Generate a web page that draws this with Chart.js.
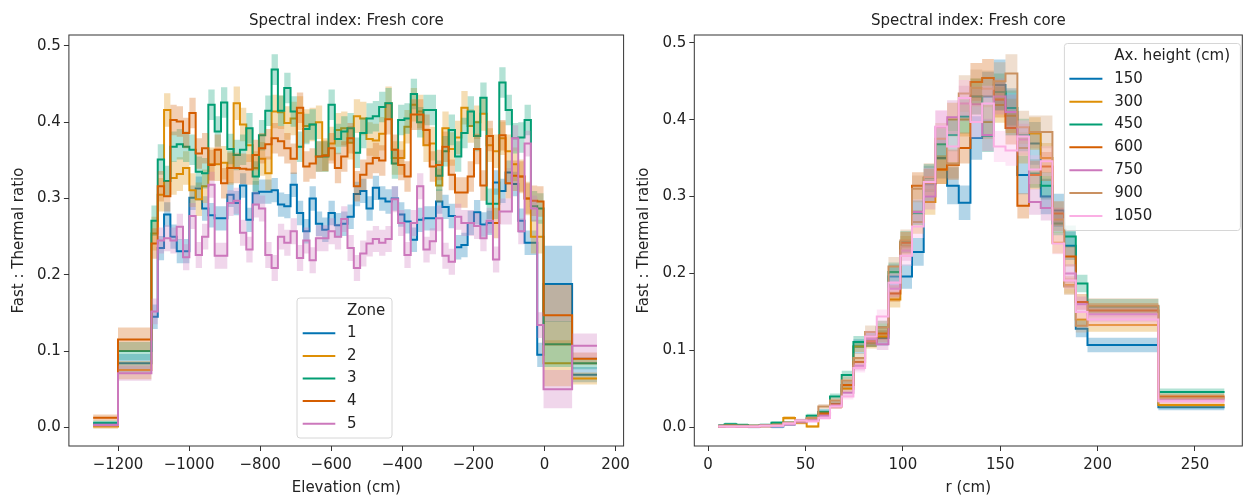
<!DOCTYPE html>
<html><head><meta charset="utf-8">
<script src="https://cdn.jsdelivr.net/npm/chart.js@4.4.0/dist/chart.umd.min.js"></script>
<style>
html,body{margin:0;padding:0;background:#fff;}
#wrap{position:relative;width:1249px;height:498px;overflow:hidden;background:#fff;}
canvas{position:absolute;top:0;}
#c1{z-index:1;}
#c2{z-index:2;}
</style></head><body>
<div id="wrap">
<canvas id="c1" width="660" height="498" style="left:0"></canvas>
<canvas id="c2" width="624" height="498" style="left:625px"></canvas>
</div>
<script>
// ---------------- DATA: left panel (Elevation) ----------------
const elevEdges = [-1270, -1200,
 -1106, -1088.2, -1070.4, -1052.6, -1034.8, -1017, -999.2, -981.4, -963.6, -945.8,
 -928, -910.2, -892.4, -874.6, -856.8, -839, -821.2, -803.4, -785.6, -767.8,
 -750, -732.2, -714.4, -696.6, -678.8, -661, -643.2, -625.4, -607.6, -589.8,
 -572, -554.2, -536.4, -518.6, -500.8, -483, -465.2, -447.4, -429.6, -411.8,
 -394, -376.2, -358.4, -340.6, -322.8, -305, -287.2, -269.4, -251.6, -233.8,
 -216, -198.2, -180.4, -162.6, -144.8, -127, -109.2, -91.4, -73.6, -55.8,
 -38, -20.2, -2.4, 78, 148];
const zoneLabels = ['1', '2', '3', '4', '5'];
const zone1 = [0.004, 0.084,
 0.145, 0.235, 0.279, 0.250, 0.231, 0.231, 0.301, 0.313, 0.287, 0.278,
 0.274, 0.274, 0.305, 0.294, 0.317, 0.272, 0.307, 0.309, 0.309, 0.311,
 0.292, 0.290, 0.318, 0.281, 0.257, 0.300, 0.267, 0.259, 0.281, 0.265,
 0.267, 0.276, 0.306, 0.310, 0.287, 0.314, 0.300, 0.296, 0.300, 0.279,
 0.270, 0.246, 0.272, 0.274, 0.274, 0.296, 0.289, 0.277, 0.236, 0.239,
 0.268, 0.282, 0.266, 0.268, 0.321, 0.310, 0.334, 0.319, 0.271, 0.242,
 0.242, 0.095, 0.188, 0.069];
const zone2 = [0.001, 0.075,
 0.254, 0.305, 0.416, 0.327, 0.332, 0.340, 0.311, 0.299, 0.316, 0.345,
 0.345, 0.347, 0.340, 0.425, 0.397, 0.370, 0.340, 0.352, 0.333, 0.414,
 0.413, 0.399, 0.405, 0.412, 0.395, 0.397, 0.400, 0.357, 0.372, 0.390,
 0.392, 0.373, 0.408, 0.405, 0.378, 0.376, 0.385, 0.425, 0.353, 0.353,
 0.394, 0.423, 0.414, 0.370, 0.372, 0.317, 0.392, 0.365, 0.380, 0.419,
 0.395, 0.400, 0.411, 0.370, 0.362, 0.379, 0.362, 0.345, 0.329, 0.300,
 0.250, 0.250, 0.084, 0.064];
const zone3 = [0.006, 0.100,
 0.271, 0.351, 0.323, 0.368, 0.371, 0.368, 0.364, 0.335, 0.333, 0.423,
 0.388, 0.426, 0.365, 0.357, 0.364, 0.392, 0.329, 0.383, 0.415, 0.469,
 0.415, 0.445, 0.414, 0.368, 0.391, 0.397, 0.355, 0.355, 0.423, 0.378,
 0.388, 0.392, 0.360, 0.386, 0.405, 0.408, 0.420, 0.425, 0.346, 0.403,
 0.405, 0.437, 0.400, 0.416, 0.416, 0.330, 0.362, 0.390, 0.355, 0.386,
 0.414, 0.382, 0.432, 0.293, 0.293, 0.452, 0.416, 0.379, 0.380, 0.403,
 0.290, 0.287, 0.109, 0.084];
const zone4 = [0.0127, 0.115,
 0.241, 0.316, 0.303, 0.403, 0.401, 0.386, 0.412, 0.359, 0.366, 0.344,
 0.364, 0.320, 0.340, 0.340, 0.339, 0.338, 0.357, 0.366, 0.371, 0.379,
 0.375, 0.366, 0.352, 0.419, 0.342, 0.346, 0.355, 0.356, 0.366, 0.340,
 0.355, 0.379, 0.316, 0.331, 0.346, 0.353, 0.350, 0.404, 0.364, 0.344,
 0.329, 0.410, 0.410, 0.390, 0.342, 0.344, 0.368, 0.331, 0.308, 0.308,
 0.329, 0.365, 0.317, 0.382, 0.268, 0.383, 0.320, 0.330, 0.329, 0.300,
 0.297, 0.296, 0.147, 0.090];
const zone5 = [0.003, 0.071,
 0.152, 0.245, 0.248, 0.245, 0.263, 0.223, 0.277, 0.226, 0.250, 0.318,
 0.225, 0.225, 0.294, 0.297, 0.255, 0.233, 0.292, 0.287, 0.226, 0.209,
 0.250, 0.242, 0.257, 0.222, 0.245, 0.219, 0.248, 0.248, 0.257, 0.250,
 0.273, 0.235, 0.209, 0.228, 0.241, 0.247, 0.242, 0.247, 0.299, 0.268,
 0.226, 0.268, 0.316, 0.233, 0.244, 0.274, 0.225, 0.217, 0.276, 0.268,
 0.268, 0.264, 0.248, 0.271, 0.220, 0.283, 0.283, 0.379, 0.257, 0.372,
 0.287, 0.134, 0.050, 0.107];
// uncertainty (half-width) of fine bins, and of the 4 coarse bins [first, second, second-last, last]
const zoneSigma = [0.016, 0.022, 0.020, 0.020, 0.017];
const zoneCoarseSigma = [
 [0.003, 0.012, 0.050, 0.010],
 [0.003, 0.012, 0.030, 0.008],
 [0.003, 0.012, 0.030, 0.008],
 [0.004, 0.016, 0.040, 0.008],
 [0.003, 0.010, 0.025, 0.016]];
const elevTicks = [-1200, -1000, -800, -600, -400, -200, 0, 200];

// ---------------- DATA: right panel (radius) ----------------
const rEdges = [5.2, 8.5, 14.5, 20.5, 26.5, 32.5, 38.6, 44.6, 50.6, 56.6, 62.6,
 68.6, 74.6, 80.6, 86.6, 92.6, 98.7, 104.7, 110.7, 116.7, 122.7,
 128.7, 134.7, 140.7, 146.7, 152.7, 158.8, 164.8, 170.8, 176.8, 182.8,
 188.8, 194.8, 231.2, 265.2];
const heightLabels = ['150', '300', '450', '600', '750', '900', '1050'];
const h150 = [0.002, 0.003, 0.002, 0.001, 0.002, 0.001, 0.004, 0.008, 0.010, 0.020, 0.030, 0.055,
 0.105, 0.115, 0.116, 0.196, 0.196, 0.228, 0.316, 0.350, 0.314, 0.292, 0.376, 0.430,
 0.445, 0.410, 0.328, 0.369, 0.300, 0.282, 0.236, 0.128, 0.107, 0.026];
const h300 = [0.001, 0.002, 0.002, 0.001, 0.002, 0.003, 0.012, 0.006, 0.001, 0.016, 0.027, 0.050,
 0.105, 0.110, 0.118, 0.166, 0.235, 0.267, 0.293, 0.335, 0.400, 0.400, 0.430, 0.397,
 0.419, 0.405, 0.363, 0.382, 0.350, 0.240, 0.185, 0.140, 0.133, 0.029];
const h450 = [0.002, 0.004, 0.003, 0.002, 0.003, 0.006, 0.006, 0.008, 0.015, 0.020, 0.040, 0.068,
 0.111, 0.112, 0.130, 0.202, 0.241, 0.279, 0.324, 0.368, 0.380, 0.404, 0.430, 0.379,
 0.436, 0.415, 0.380, 0.330, 0.314, 0.265, 0.248, 0.187, 0.157, 0.046];
const h600 = [0.001, 0.002, 0.001, 0.001, 0.002, 0.003, 0.005, 0.008, 0.010, 0.018, 0.030, 0.055,
 0.085, 0.112, 0.122, 0.174, 0.240, 0.314, 0.318, 0.335, 0.341, 0.363, 0.449, 0.454,
 0.426, 0.389, 0.288, 0.328, 0.339, 0.278, 0.222, 0.163, 0.152, 0.040];
const h750 = [0.001, 0.001, 0.001, 0.001, 0.002, 0.002, 0.004, 0.007, 0.010, 0.015, 0.028, 0.045,
 0.080, 0.115, 0.108, 0.180, 0.230, 0.280, 0.300, 0.390, 0.403, 0.421, 0.420, 0.380,
 0.430, 0.410, 0.374, 0.293, 0.285, 0.270, 0.200, 0.160, 0.147, 0.036];
const h900 = [0.002, 0.002, 0.002, 0.002, 0.002, 0.003, 0.006, 0.008, 0.012, 0.027, 0.035, 0.061,
 0.090, 0.124, 0.130, 0.209, 0.243, 0.310, 0.325, 0.375, 0.343, 0.434, 0.441, 0.440,
 0.450, 0.460, 0.390, 0.384, 0.384, 0.270, 0.183, 0.132, 0.158, 0.038];
const h1050 = [0.001, 0.001, 0.001, 0.001, 0.002, 0.002, 0.005, 0.009, 0.008, 0.012, 0.027, 0.040,
 0.077, 0.118, 0.144, 0.188, 0.223, 0.261, 0.319, 0.391, 0.365, 0.428, 0.397, 0.421,
 0.365, 0.360, 0.378, 0.335, 0.346, 0.239, 0.191, 0.150, 0.140, 0.034];
const heightRelErr = [0.07, 0.05, 0.05, 0.05, 0.05, 0.05, 0.05];
const heightAbsErr = 0.002;
const rTicks = [0, 50, 100, 150, 200, 250];
const ratioTicks = [0, 0.1, 0.2, 0.3, 0.4, 0.5];

// ---------------- STYLE ----------------
const palette = ['#0173b2', '#de8f05', '#029e73', '#d55e00', '#cc78bc', '#ca9161', '#fbafe4'];
const FONT = '"DejaVu Sans", "Liberation Sans", sans-serif';
const TXT = '#222222';
const AX = '#333333';

function rgba(hex, a) {
  const n = parseInt(hex.slice(1), 16);
  return `rgba(${(n >> 16) & 255},${(n >> 8) & 255},${n & 255},${a})`;
}
function stepPts(edges, vals) {
  const p = vals.map((v, i) => ({x: edges[i], y: v}));
  p.push({x: edges[edges.length - 1], y: vals[vals.length - 1]});
  return p;
}
function buildDatasets(edges, seriesList, sigmaList) {
  const ds = [];
  seriesList.forEach((vals, k) => {
    const sig = sigmaList[k];
    const col = palette[k];
    ds.push({data: stepPts(edges, vals), borderColor: col, borderWidth: 2, pointRadius: 0,
      fill: false, stepped: 'before', order: -(3 * k)});
    ds.push({data: stepPts(edges, vals.map((v, i) => v - sig[i])), borderColor: 'rgba(0,0,0,0)',
      borderWidth: 0, pointRadius: 0, fill: false, stepped: 'before', order: -(3 * k + 1)});
    ds.push({data: stepPts(edges, vals.map((v, i) => v + sig[i])), borderColor: 'rgba(0,0,0,0)',
      borderWidth: 0, pointRadius: 0, fill: '-1', backgroundColor: rgba(col, 0.3),
      stepped: 'before', order: -(3 * k + 2)});
  });
  return ds;
}

const framePlugin = {
  id: 'frame',
  afterDatasetsDraw(chart) {
    const {ctx, chartArea: a} = chart;
    ctx.save();
    ctx.strokeStyle = AX; ctx.lineWidth = 1;
    ctx.strokeRect(a.left, a.top, a.right - a.left, a.bottom - a.top);
    ctx.restore();
  }
};
function legendPlugin(cfg) {
  return {
    id: 'customLegend',
    afterDraw(chart) {
      const ctx = chart.ctx;
      ctx.save();
      const {x, y, w, h} = cfg.box, r = 3;
      ctx.beginPath();
      ctx.moveTo(x + r, y); ctx.lineTo(x + w - r, y); ctx.arcTo(x + w, y, x + w, y + r, r);
      ctx.lineTo(x + w, y + h - r); ctx.arcTo(x + w, y + h, x + w - r, y + h, r);
      ctx.lineTo(x + r, y + h); ctx.arcTo(x, y + h, x, y + h - r, r);
      ctx.lineTo(x, y + r); ctx.arcTo(x, y, x + r, y, r); ctx.closePath();
      ctx.fillStyle = 'rgba(255,255,255,0.8)'; ctx.fill();
      ctx.strokeStyle = '#d6d6d6'; ctx.lineWidth = 1; ctx.stroke();
      ctx.font = '15px ' + FONT; ctx.textBaseline = 'middle'; ctx.textAlign = 'left';
      ctx.fillStyle = TXT;
      ctx.fillText(cfg.title, cfg.textX, cfg.titleY);
      cfg.labels.forEach((lab, i) => {
        const yy = cfg.firstY + i * cfg.dy;
        ctx.strokeStyle = palette[i]; ctx.lineWidth = 2;
        ctx.beginPath(); ctx.moveTo(cfg.lineX0, yy); ctx.lineTo(cfg.lineX1, yy); ctx.stroke();
        ctx.fillStyle = TXT; ctx.fillText(lab, cfg.textX, yy);
      });
      ctx.restore();
    }
  };
}
function fmtNum(v) { return v < 0 ? '\u2212' + Math.abs(v) : String(v); }
function noPad(s) { s.paddingLeft = 0; s.paddingRight = 0; s.paddingTop = 0; s.paddingBottom = 0; }

function makeChart(id, o) {
  return new Chart(document.getElementById(id), {
    type: 'line',
    data: {datasets: o.datasets},
    options: {
      responsive: false, animation: false, devicePixelRatio: 1,
      layout: {padding: {left: 0, right: o.padRight, top: 0, bottom: 0}},
      plugins: {
        legend: {display: false}, tooltip: {enabled: false},
        title: {display: true, text: 'Spectral index: Fresh core', fullSize: false,
          font: {family: FONT, size: 15, weight: 'normal'}, color: TXT,
          padding: {top: 12, bottom: 5}}
      },
      scales: {
        x: {type: 'linear', min: o.xmin, max: o.xmax,
          afterBuildTicks: s => { s.ticks = o.xTicks.map(v => ({value: v})); },
          afterFit: s => { s.height = 52; noPad(s); },
          ticks: {callback: v => fmtNum(v), font: {family: FONT, size: 15}, color: TXT,
            padding: 5, maxRotation: 0, autoSkip: false},
          grid: {display: true, drawOnChartArea: false, drawTicks: true, tickLength: 5,
            color: AX, lineWidth: 1},
          border: {display: false},
          title: {display: true, text: o.xTitle, font: {family: FONT, size: 15}, color: TXT,
            padding: {top: 0, bottom: 1}}
        },
        y: {type: 'linear', min: o.ymin, max: o.ymax,
          afterBuildTicks: s => { s.ticks = ratioTicks.map(v => ({value: v})); },
          afterFit: s => { s.width = o.yWidth; noPad(s); },
          ticks: {callback: v => v.toFixed(1), font: {family: FONT, size: 15}, color: TXT,
            padding: 3, autoSkip: false},
          grid: {display: true, drawOnChartArea: false, drawTicks: true, tickLength: 5,
            color: AX, lineWidth: 1},
          border: {display: false},
          title: {display: true, text: 'Fast : Thermal ratio', font: {family: FONT, size: 15},
            color: TXT, padding: {top: 10, bottom: 0}}
        }
      }
    },
    plugins: [framePlugin, legendPlugin(o.legend)]
  });
}

// left chart
const zones = [zone1, zone2, zone3, zone4, zone5];
const zoneSig = zones.map((vals, k) => vals.map((v, i) => {
  const n = vals.length;
  if (i === 0) return zoneCoarseSigma[k][0];
  if (i === 1) return zoneCoarseSigma[k][1];
  if (i === n - 2) return zoneCoarseSigma[k][2];
  if (i === n - 1) return zoneCoarseSigma[k][3];
  return zoneSigma[k];
}));
makeChart('c1', {
  datasets: buildDatasets(elevEdges, zones, zoneSig),
  xmin: -1338.2, xmax: 222.9, ymin: -0.0245, ymax: 0.5144,
  xTicks: elevTicks, xTitle: 'Elevation (cm)', yWidth: 68.9, padRight: 36.4,
  legend: {box: {x: 297, y: 298, w: 95, h: 140}, title: 'Zone', titleY: 311,
    firstY: 333.3, dy: 22.6, lineX0: 302.7, lineX1: 335.3, textX: 347, labels: zoneLabels}
});

// right chart
const heights = [h150, h300, h450, h600, h750, h900, h1050];
const heightSig = heights.map((vals, k) => vals.map(v => heightRelErr[k] * v + heightAbsErr));
makeChart('c2', {
  datasets: buildDatasets(rEdges, heights, heightSig),
  xmin: -7.1, xmax: 274.3, ymin: -0.0243, ymax: 0.51,
  xTicks: rTicks, xTitle: 'r (cm)', yWidth: 69.3, padRight: 6.7,
  legend: {box: {x: 439.4, y: 43.5, w: 176, h: 187}, title: 'Ax. height (cm)', titleY: 56,
    firstY: 78.8, dy: 22.85, lineX0: 444.4, lineX1: 477.4, textX: 489.2, labels: heightLabels}
});
</script>
</body></html>
